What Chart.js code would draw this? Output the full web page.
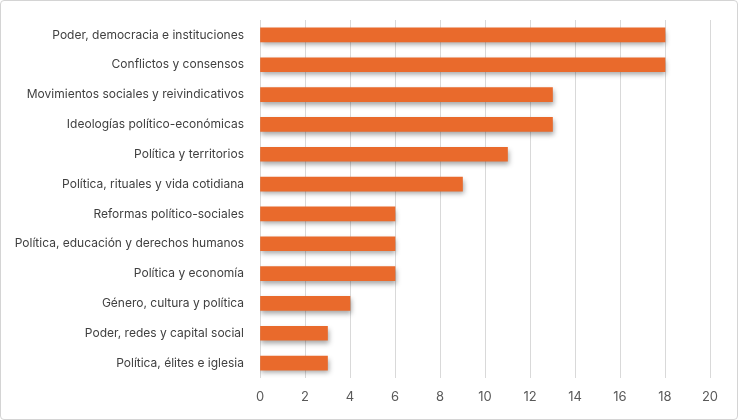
<!DOCTYPE html>
<html>
<head>
<meta charset="utf-8">
<script src="https://cdn.jsdelivr.net/npm/chart.js@4/dist/chart.umd.min.js"></script>
<style>
  html, body { margin: 0; padding: 0; background: #fff; }
  #wrap { position: relative; width: 738px; height: 420px; }
  #frame { position: absolute; left: 0; top: 0; width: 738px; height: 420px;
           box-sizing: border-box; border: 1px solid #d4d4d4; border-radius: 4px; }
  #temasChart { position: absolute; left: 0; top: 0; }
</style>
</head>
<body>
<div id="wrap">
  <div id="frame"></div>
  <canvas id="temasChart" width="738" height="420"></canvas>
</div>
<script>
const categories = [
    'Poder, democracia e instituciones',
    'Conflictos y consensos',
    'Movimientos sociales y reivindicativos',
    'Ideologías político-económicas',
    'Política y territorios',
    'Política, rituales y vida cotidiana',
    'Reformas político-sociales',
    'Política, educación y derechos humanos',
    'Política y economía',
    'Género, cultura y política',
    'Poder, redes y capital social',
    'Política, élites e iglesia'
];
const values = [18, 18, 13, 13, 11, 9, 6, 6, 6, 4, 3, 3];
const xTicks = [0, 2, 4, 6, 8, 10, 12, 14, 16, 18, 20];

// shadow under the bars, like the office chart
const barShadow = {
    id: 'barShadow',
    beforeDatasetsDraw(chart) {
        const c = chart.ctx;
        c.save();
        c.shadowColor = 'rgba(0, 0, 0, 0.35)';
        c.shadowBlur = 5;
        c.shadowOffsetX = 1;
        c.shadowOffsetY = 3;
    },
    afterDatasetsDraw(chart) {
        chart.ctx.restore();
    }
};

const ctx = document.getElementById('temasChart').getContext('2d');
const temasChart = new Chart(ctx, {
    type: 'bar',
    data: {
        labels: categories,
        datasets: [{
            data: values,
            backgroundColor: function(context) {
                const el = context.element;
                if (!el || el.y === undefined) return '#E96A2C';
                const h = 7;
                const g = context.chart.ctx.createLinearGradient(0, el.y - h, 0, el.y + h);
                g.addColorStop(0, '#F28C58');
                g.addColorStop(0.5, '#EC6E30');
                g.addColorStop(1, '#E05A1A');
                return g;
            },
            borderWidth: 0,
            barThickness: 14
        }]
    },
    options: {
        indexAxis: 'y',
        responsive: false,
        animation: false,
        layout: {
            padding: { left: 0, right: 28, top: 20, bottom: 0 }
        },
        plugins: {
            legend: { display: false },
            tooltip: { enabled: false }
        },
        scales: {
            x: {
                min: 0,
                max: 20,
                afterBuildTicks: function(scale) {
                    scale.ticks = xTicks.map(v => ({ value: v }));
                },
                afterFit: function(scale) {
                    scale.height = 42;
                },
                grid: {
                    color: '#d9d9d9',
                    lineWidth: 1,
                    drawTicks: false
                },
                border: { display: false },
                ticks: {
                    padding: 11,
                    color: '#595959',
                    font: { family: 'Inter', size: 13 }
                }
            },
            y: {
                afterFit: function(scale) {
                    scale.width = 260;
                    scale.paddingTop = 0;
                    scale.paddingBottom = 0;
                },
                grid: { display: false, drawTicks: false },
                border: { display: false },
                ticks: {
                    padding: 16,
                    color: '#404040',
                    font: { family: 'Inter', size: 12 }
                }
            }
        }
    },
    plugins: [barShadow]
});
</script>
</body>
</html>
